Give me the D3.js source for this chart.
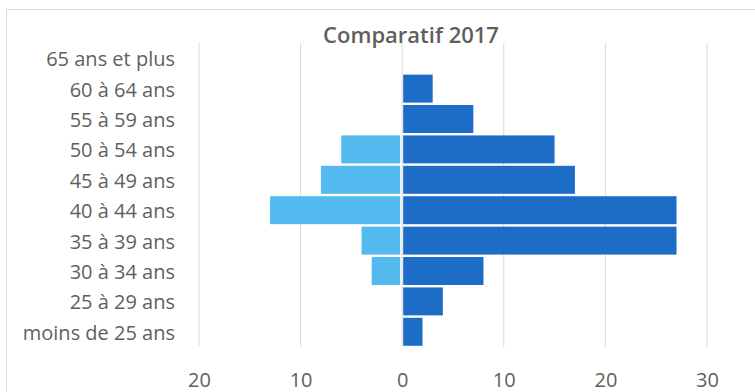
<!DOCTYPE html>
<html>
<head>
    <title>Comparatif 2017</title>
    <script src="https://d3js.org/d3.v7.min.js"></script>
    <style>
        body { margin: 0; background: #fff; }
        text { font-family: "Open Sans", "Noto Sans", sans-serif; fill: #5f5f5f; }
    </style>
</head>
<body>
    <div id="chart"></div>

    <script>
        // Age groups, top to bottom
        var categories = ["65 ans et plus", "60 à 64 ans", "55 à 59 ans", "50 à 54 ans", "45 à 49 ans",
            "40 à 44 ans", "35 à 39 ans", "30 à 34 ans", "25 à 29 ans", "moins de 25 ans"];
        // Left side (light blue), shown as negatives
        var leftValues = [0, 0, 0, 6, 8, 13, 4, 3, 0, 0];
        // Right side (dark blue)
        var rightValues = [0, 3, 7, 15, 17, 27, 27, 8, 4, 2];
        var tickValues = [-20, -10, 0, 10, 20, 30];

        var width = 755, height = 392;
        var svg = d3.select("#chart").append("svg")
            .attr("width", width)
            .attr("height", height);

        // Outer chart border
        svg.append("rect")
            .attr("x", 6.5).attr("y", 9.5)
            .attr("width", 760).attr("height", 400)
            .attr("fill", "none")
            .attr("stroke", "#d9d9d9");

        var x = d3.scaleLinear()
            .domain([-20, 30])
            .range([199, 707]);

        var y = d3.scaleBand()
            .domain(categories)
            .range([43, 347])
            .paddingInner(0.08)
            .paddingOuter(0.04);

        // Gridlines
        svg.append("g")
            .selectAll("line")
            .data(tickValues)
            .enter()
            .append("line")
            .attr("x1", function(d) { return x(d); })
            .attr("x2", function(d) { return x(d); })
            .attr("y1", 43)
            .attr("y2", 347)
            .attr("stroke", "#d9d9d9")
            .attr("stroke-width", 1);

        // Left bars
        svg.append("g")
            .selectAll("rect")
            .data(leftValues)
            .enter()
            .append("rect")
            .attr("x", function(d) { return x(-d); })
            .attr("y", function(d, i) { return y(categories[i]); })
            .attr("width", function(d) { return Math.max(0, x(0) - x(-d) - 2); })
            .attr("height", y.bandwidth())
            .attr("fill", "#52baee");

        // Right bars
        svg.append("g")
            .selectAll("rect")
            .data(rightValues)
            .enter()
            .append("rect")
            .attr("x", x(0) + 1)
            .attr("y", function(d, i) { return y(categories[i]); })
            .attr("width", function(d) { return Math.max(0, x(d) - x(0) - 1); })
            .attr("height", y.bandwidth())
            .attr("fill", "#1d6cc6");

        // Category labels
        var yAxis = svg.append("g")
            .attr("transform", "translate(175,0)")
            .call(d3.axisLeft(y).tickSize(0).tickPadding(0));
        yAxis.select(".domain").remove();
        yAxis.selectAll("text")
            .attr("font-size", "20px")
            .attr("dy", "0.4em")
            .style("font-family", "'Open Sans', sans-serif")
            .attr("fill", "#5f5f5f");

        // X axis labels (absolute values)
        var xAxis = svg.append("g")
            .attr("transform", "translate(0,370)")
            .call(d3.axisBottom(x).tickValues(tickValues).tickSize(0)
                .tickFormat(function(d) { return Math.abs(d); }));
        xAxis.select(".domain").remove();
        xAxis.selectAll("text")
            .attr("font-size", "20px")
            .style("font-family", "'Open Sans', sans-serif")
            .attr("fill", "#5f5f5f");

        // Title
        svg.append("text")
            .attr("x", 411)
            .attr("y", 43)
            .attr("text-anchor", "middle")
            .attr("font-size", "22px")
            .attr("font-weight", "600")
            .attr("fill", "#505050")
            .text("Comparatif 2017");
    </script>
</body>
</html>
